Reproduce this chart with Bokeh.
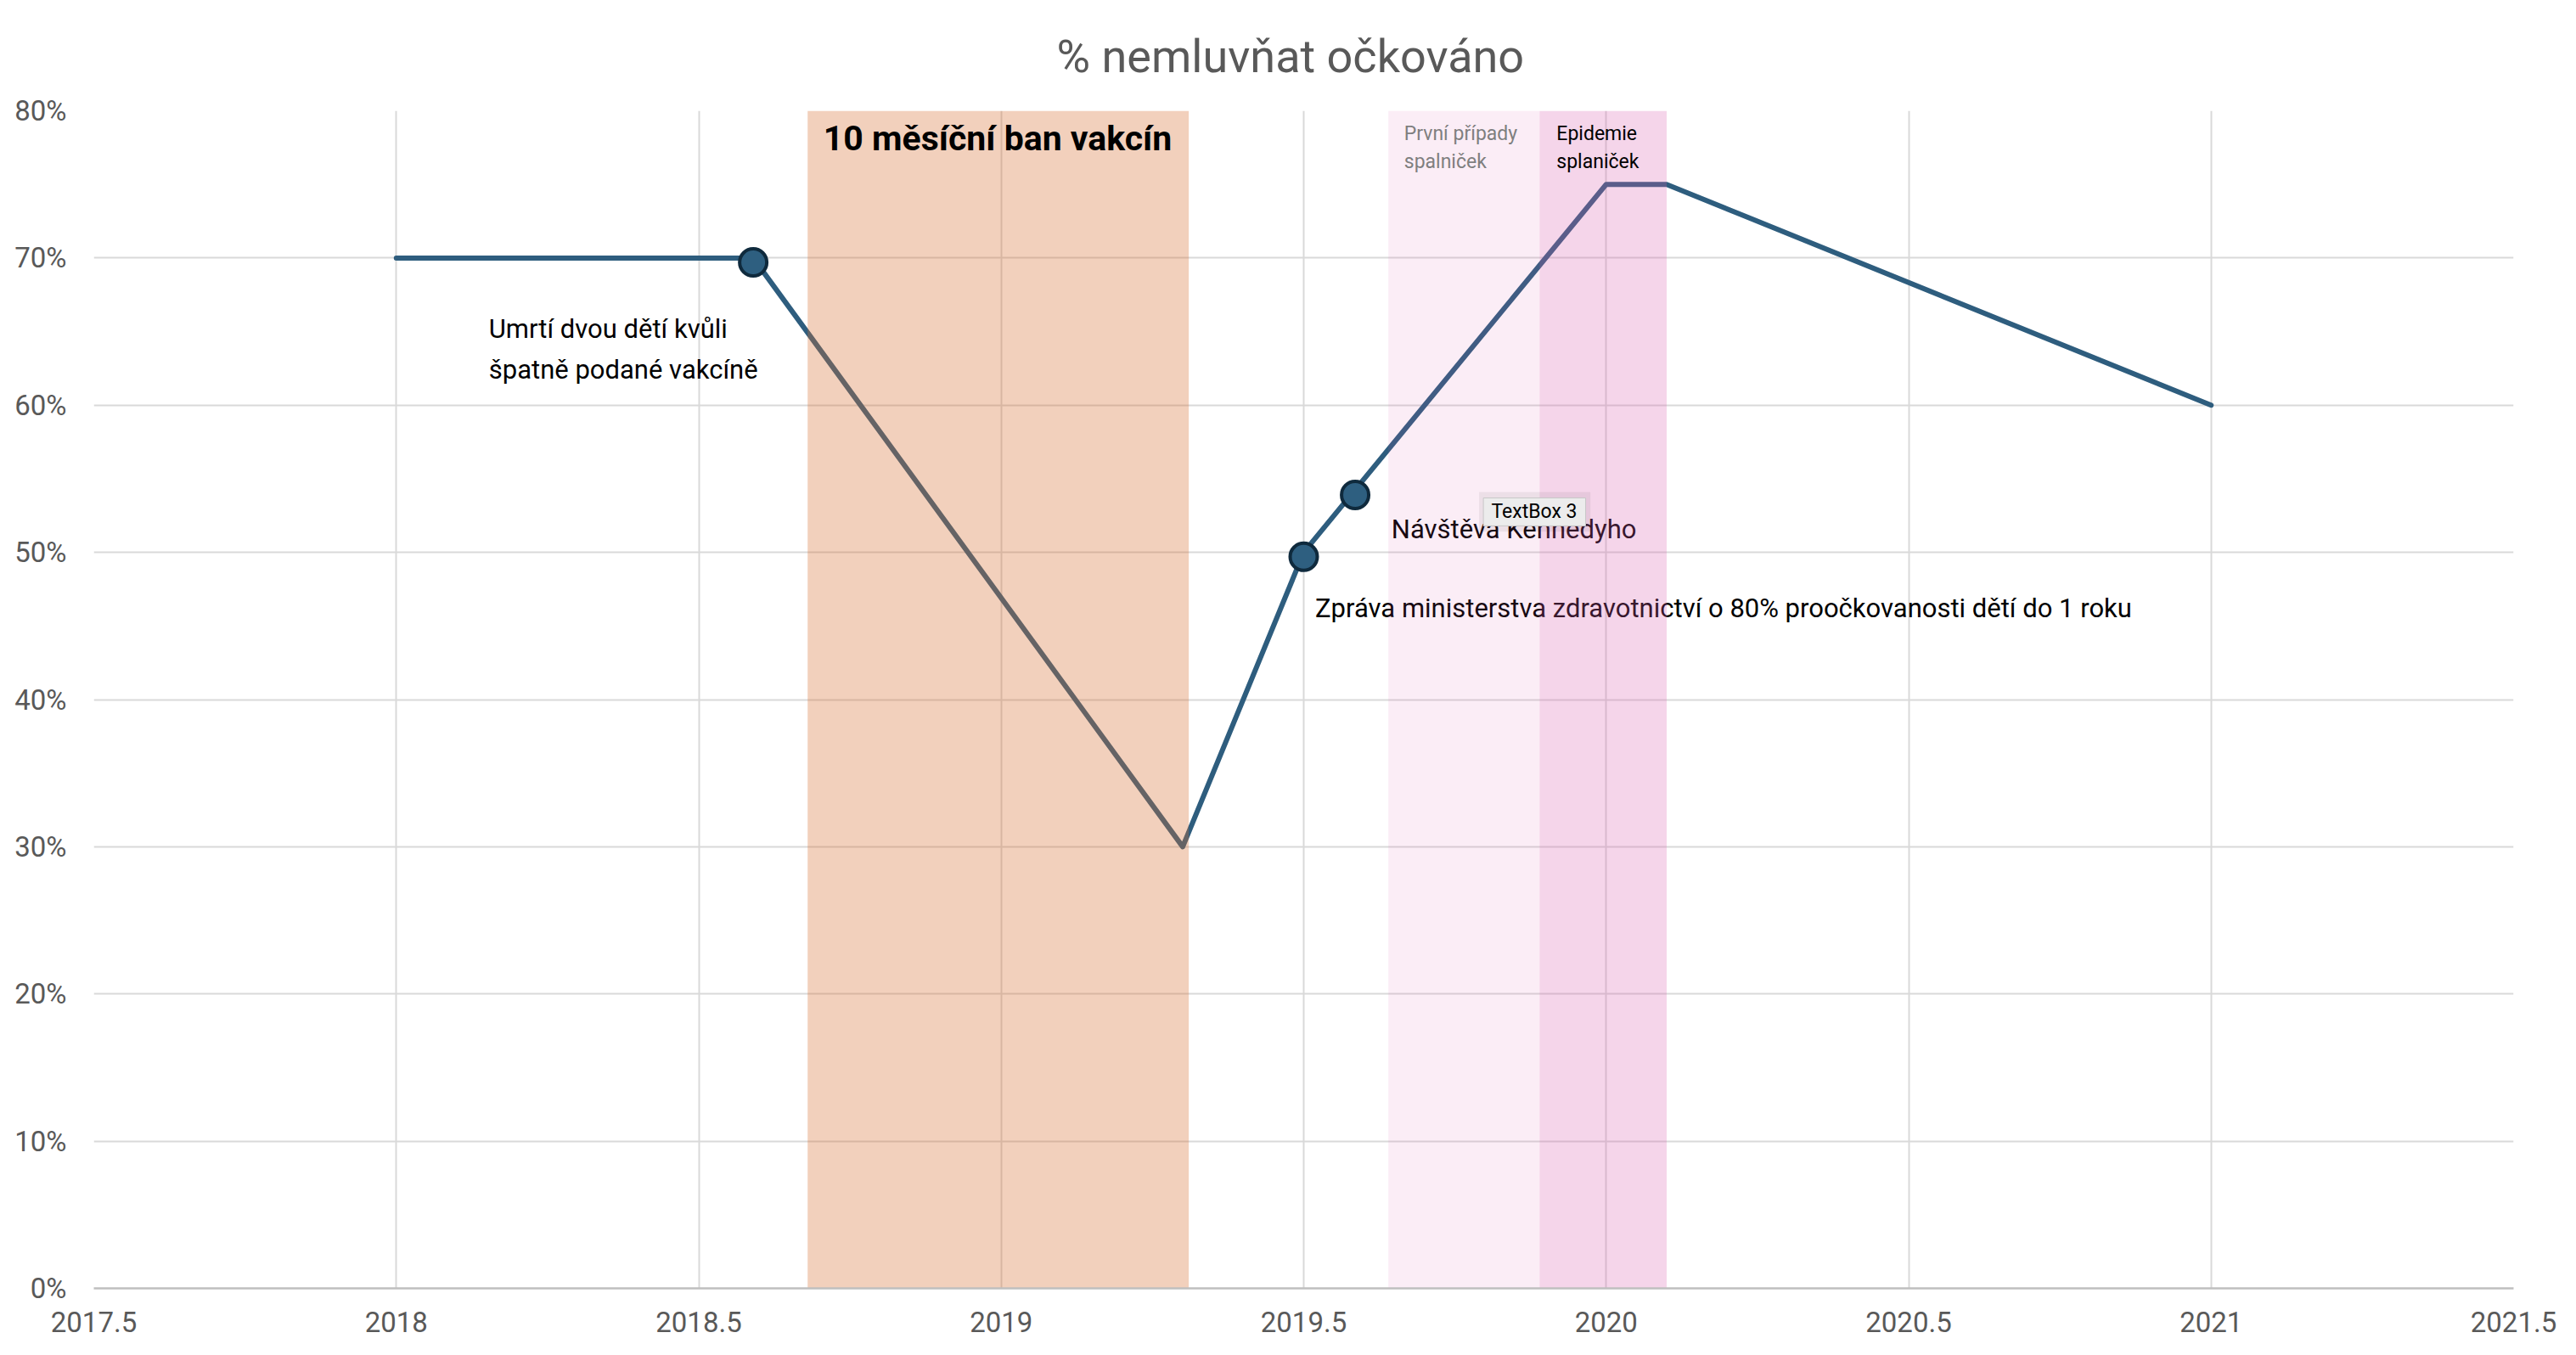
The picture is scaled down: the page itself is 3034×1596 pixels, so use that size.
from bokeh.plotting import figure
from bokeh.models import ColumnDataSource, FixedTicker, CustomJSTickFormatter
from bokeh.core.properties import value
from bokeh.embed import file_html
from bokeh.resources import INLINE

# ---------------- data ----------------
title_text = "% nemluvňat očkováno"

line_x = [2018.0, 2018.59, 2019.3, 2019.5, 2020.0, 2020.1, 2021.0]
line_y = [0.70, 0.70, 0.30, 0.50, 0.75, 0.75, 0.60]

event_x = [2018.59, 2019.5, 2019.585]
event_y = [0.697, 0.497, 0.539]

band_labels = ["10 měsíční ban vakcín", "První případy\nspalniček", "Epidemie\nsplaniček"]
band_start = [2018.68, 2019.64, 2019.89]
band_end = [2019.31, 2019.89, 2020.10]

note_texts = [
    "Umrtí dvou dětí kvůli\nšpatně podané vakcíně",
    "Návštěva Kennedyho",
    "Zpráva ministerstva zdravotnictví o 80% proočkovanosti dětí do 1 roku",
]

x_ticks = [2017.5, 2018, 2018.5, 2019, 2019.5, 2020, 2020.5, 2021, 2021.5]
x_tick_labels = ["2017.5", "2018", "2018.5", "2019", "2019.5", "2020", "2020.5", "2021", "2021.5"]
y_ticks = [0, 0.1, 0.2, 0.3, 0.4, 0.5, 0.6, 0.7, 0.8]
y_tick_labels = ["0%", "10%", "20%", "30%", "40%", "50%", "60%", "70%", "80%"]

tooltip_text = "TextBox 3"

# ---------------- layout / styles ----------------
FONT = "Roboto"
GREY_TXT = "#595959"

p = figure(
    width=3018, height=1580,
    x_range=(2017.5, 2021.5), y_range=(0, 0.8),
    output_backend="svg", toolbar_location=None,
    min_border_left=110, min_border_right=58,
    min_border_top=130, min_border_bottom=63,
)
p.outline_line_color = None
p.background_fill_color = "white"
p.border_fill_color = "white"

p.title.text = title_text
p.title.align = "left"
p.title.offset = 1134
p.title.text_font = FONT
p.title.text_font_size = "54px"
p.title.text_font_style = "normal"
p.title.text_color = GREY_TXT
p.title.standoff = 65


def fmt(tick_values, tick_texts):
    return CustomJSTickFormatter(
        args=dict(tvals=tick_values, tlabels=tick_texts),
        code="const i = tvals.findIndex(t => Math.abs(t - tick) < 1e-9); return i >= 0 ? tlabels[i] : String(tick);",
    )


p.xaxis.ticker = FixedTicker(ticks=x_ticks)
p.yaxis.ticker = FixedTicker(ticks=y_ticks)
p.xaxis.formatter = fmt(x_ticks, x_tick_labels)
p.yaxis.formatter = fmt(y_ticks, y_tick_labels)

for ax in (p.xaxis, p.yaxis):
    ax.major_tick_line_color = None
    ax.minor_tick_line_color = None
    ax.major_tick_out = 0
    ax.major_tick_in = 0
    ax.minor_tick_out = 0
    ax.major_label_text_font = FONT
    ax.major_label_text_font_size = "33px"
    ax.major_label_text_color = GREY_TXT
p.yaxis.axis_line_color = None
p.yaxis.major_label_standoff = 32
p.xaxis.axis_line_color = "#BFBFBF"
p.xaxis.axis_line_width = 2.5
p.xaxis.major_label_standoff = 27

p.grid.grid_line_color = "#D9D9D9"
p.grid.grid_line_width = 2

# main line
p.line(line_x, line_y, line_color="#2E5D7E", line_width=6,
       line_join="round", line_cap="round")

# notes that lie under the translucent bands
note_src = ColumnDataSource(dict(
    x=[2018.153, 2019.645, 2019.519],
    y=[0.638, 0.5156, 0.462],
    text=note_texts,
))
p.text(x="x", y="y", text="text", source=note_src,
       text_font=value(FONT), text_font_size="31px", text_color="#000000",
       text_align="left", text_baseline="middle", text_line_height=1.28)

# translucent period bands
band_src = ColumnDataSource(dict(
    left=band_start, right=band_end,
    bottom=[0, 0, 0], top=[0.8, 0.8, 0.8],
    color=["#D77034", "#D85DAE", "#D85DAE"],
    alpha=[0.33, 0.11, 0.26],
))
p.quad(left="left", right="right", bottom="bottom", top="top", source=band_src,
       fill_color="color", fill_alpha="alpha", line_color=None)

# event markers
p.scatter(event_x, event_y, size=32, fill_color="#2E5F80",
          line_color="#0F2A3D", line_width=4)

# band labels
p.text(x=[2018.706], y=[0.781], text=[band_labels[0]],
       text_font=value(FONT), text_font_size="41px", text_font_style="bold",
       text_color="#000000", text_align="left", text_baseline="middle")
p.text(x=[2019.666, 2019.918], y=[0.775, 0.775], text=band_labels[1:],
       text_font=value(FONT), text_font_size="23px",
       text_color=["#7F7F7F", "#000000"], text_align="left",
       text_baseline="middle", text_line_height=1.22)

# "TextBox 3" tooltip
p.quad(left=[2019.790], right=[2019.974], bottom=[0.514], top=[0.541],
       fill_color="#000000", fill_alpha=0.06, line_color=None)
p.quad(left=[2019.797], right=[2019.966], bottom=[0.518], top=[0.537],
       fill_color="#ECECEC", line_color="#C8C8C8", line_width=1)
p.text(x=[2019.881], y=[0.5275], text=[tooltip_text],
       text_font=value(FONT), text_font_size="23px", text_color="#000000",
       text_align="center", text_baseline="middle")

open("out.html", "w").write(file_html(p, INLINE))
